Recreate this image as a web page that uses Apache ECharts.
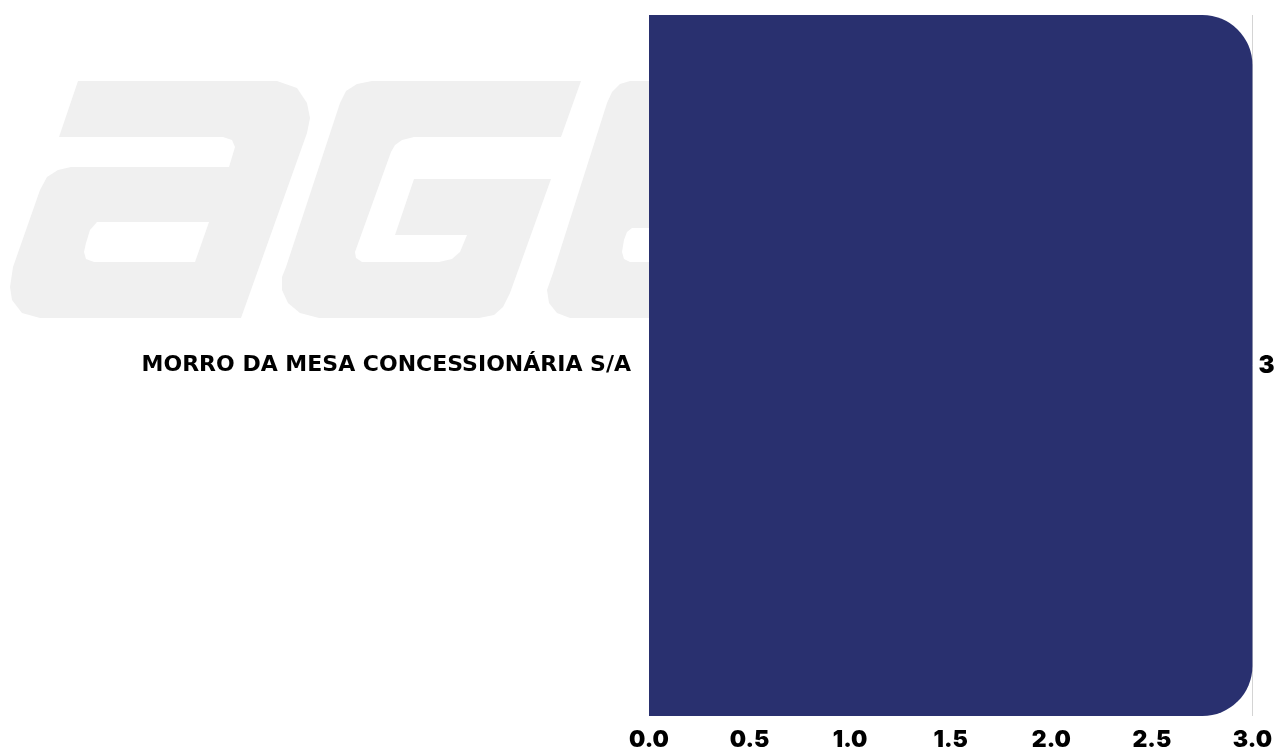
<!DOCTYPE html>
<html>
<head>
<meta charset="utf-8">
<script src="https://cdn.jsdelivr.net/npm/echarts@6/dist/echarts.min.js"></script>
<style>
html,body{margin:0;padding:0;background:#fff;}
#chart{width:1275px;height:752px;}
</style>
</head>
<body>
<div id="chart"></div>
<script>
const categories = ["MORRO DA MESA CONCESSIONÁRIA S/A"];
const values = [3];
const xTicks = [0, 0.5, 1, 1.5, 2, 2.5, 3];

const FONT = "Inter";
const wm = '#f0f0f0';
function poly(points, fill, z) {
  return { type: 'polygon', z: z, silent: true, shape: { points: points }, style: { fill: fill } };
}
const letterA = [[78,81],[277,81],[297,88],[307,103],[310,118],[307,133],[241,318],[40,318],[22,313],[12,300],[10,287],[13,267],[40,190],[47,177],[58,170],[71,167],[229,167],[235,147],[232,140],[223,137],[59,137]];
const holeA = [[97,222],[209,222],[195,262],[94,262],[86,259],[84,252],[86,243],[90,230]];
const letterG = [[372,81],[581,81],[561,137],[414,137],[402,140],[395,145],[391,152],[355,252],[356,258],[362,262],[439,262],[452,259],[460,252],[467,235],[395,235],[414,179],[551,179],[510,293],[503,307],[494,315],[479,318],[319,318],[300,313],[288,303],[282,290],[282,277],[286,267],[340,103],[346,91],[357,84],[372,81]];
const letterE = [[630,81],[649,81],[649,318],[570,318],[557,313],[549,303],[547,290],[553,273],[607,103],[612,92],[620,84]];
const holeE = [[632,228],[649,228],[649,262],[630,262],[624,259],[622,252],[624,240],[627,232]];

const chart = echarts.init(document.getElementById('chart'));
chart.setOption({
  backgroundColor: '#ffffff',
  animation: false,
  graphic: [
    poly(letterA, wm, -10), poly(holeA, '#ffffff', -9),
    poly(letterG, wm, -10),
    poly(letterE, wm, -10), poly(holeE, '#ffffff', -9)
  ],
  grid: { left: 649, right: 22, top: 15, bottom: 35, containLabel: false },
  xAxis: {
    type: 'value', min: xTicks[0], max: xTicks[xTicks.length - 1], interval: xTicks[1] - xTicks[0],
    axisLine: { show: false }, axisTick: { show: false },
    splitLine: { show: true, lineStyle: { width: 1, color: ['rgba(0,0,0,0)','rgba(0,0,0,0)','rgba(0,0,0,0)','rgba(0,0,0,0)','rgba(0,0,0,0)','rgba(0,0,0,0)','#d4d4d4'] } },
    axisLabel: { formatter: v => v.toFixed(1), color: '#000', fontFamily: FONT, fontWeight: 900, fontSize: 23, margin: 13 }
  },
  yAxis: {
    type: 'category', data: categories,
    axisLine: { show: false }, axisTick: { show: false },
    axisLabel: { color: '#000', fontFamily: 'DejaVu Sans', fontWeight: 'bold', fontSize: 22, margin: 18 }
  },
  series: [{
    type: 'bar', data: values, barWidth: '100%',
    itemStyle: { color: '#29306f', borderRadius: [0, 50, 50, 0] },
    label: { show: true, position: 'right', distance: 6, color: '#000', fontFamily: FONT, fontWeight: 900, fontSize: 24 }
  }]
});
</script>
</body>
</html>
